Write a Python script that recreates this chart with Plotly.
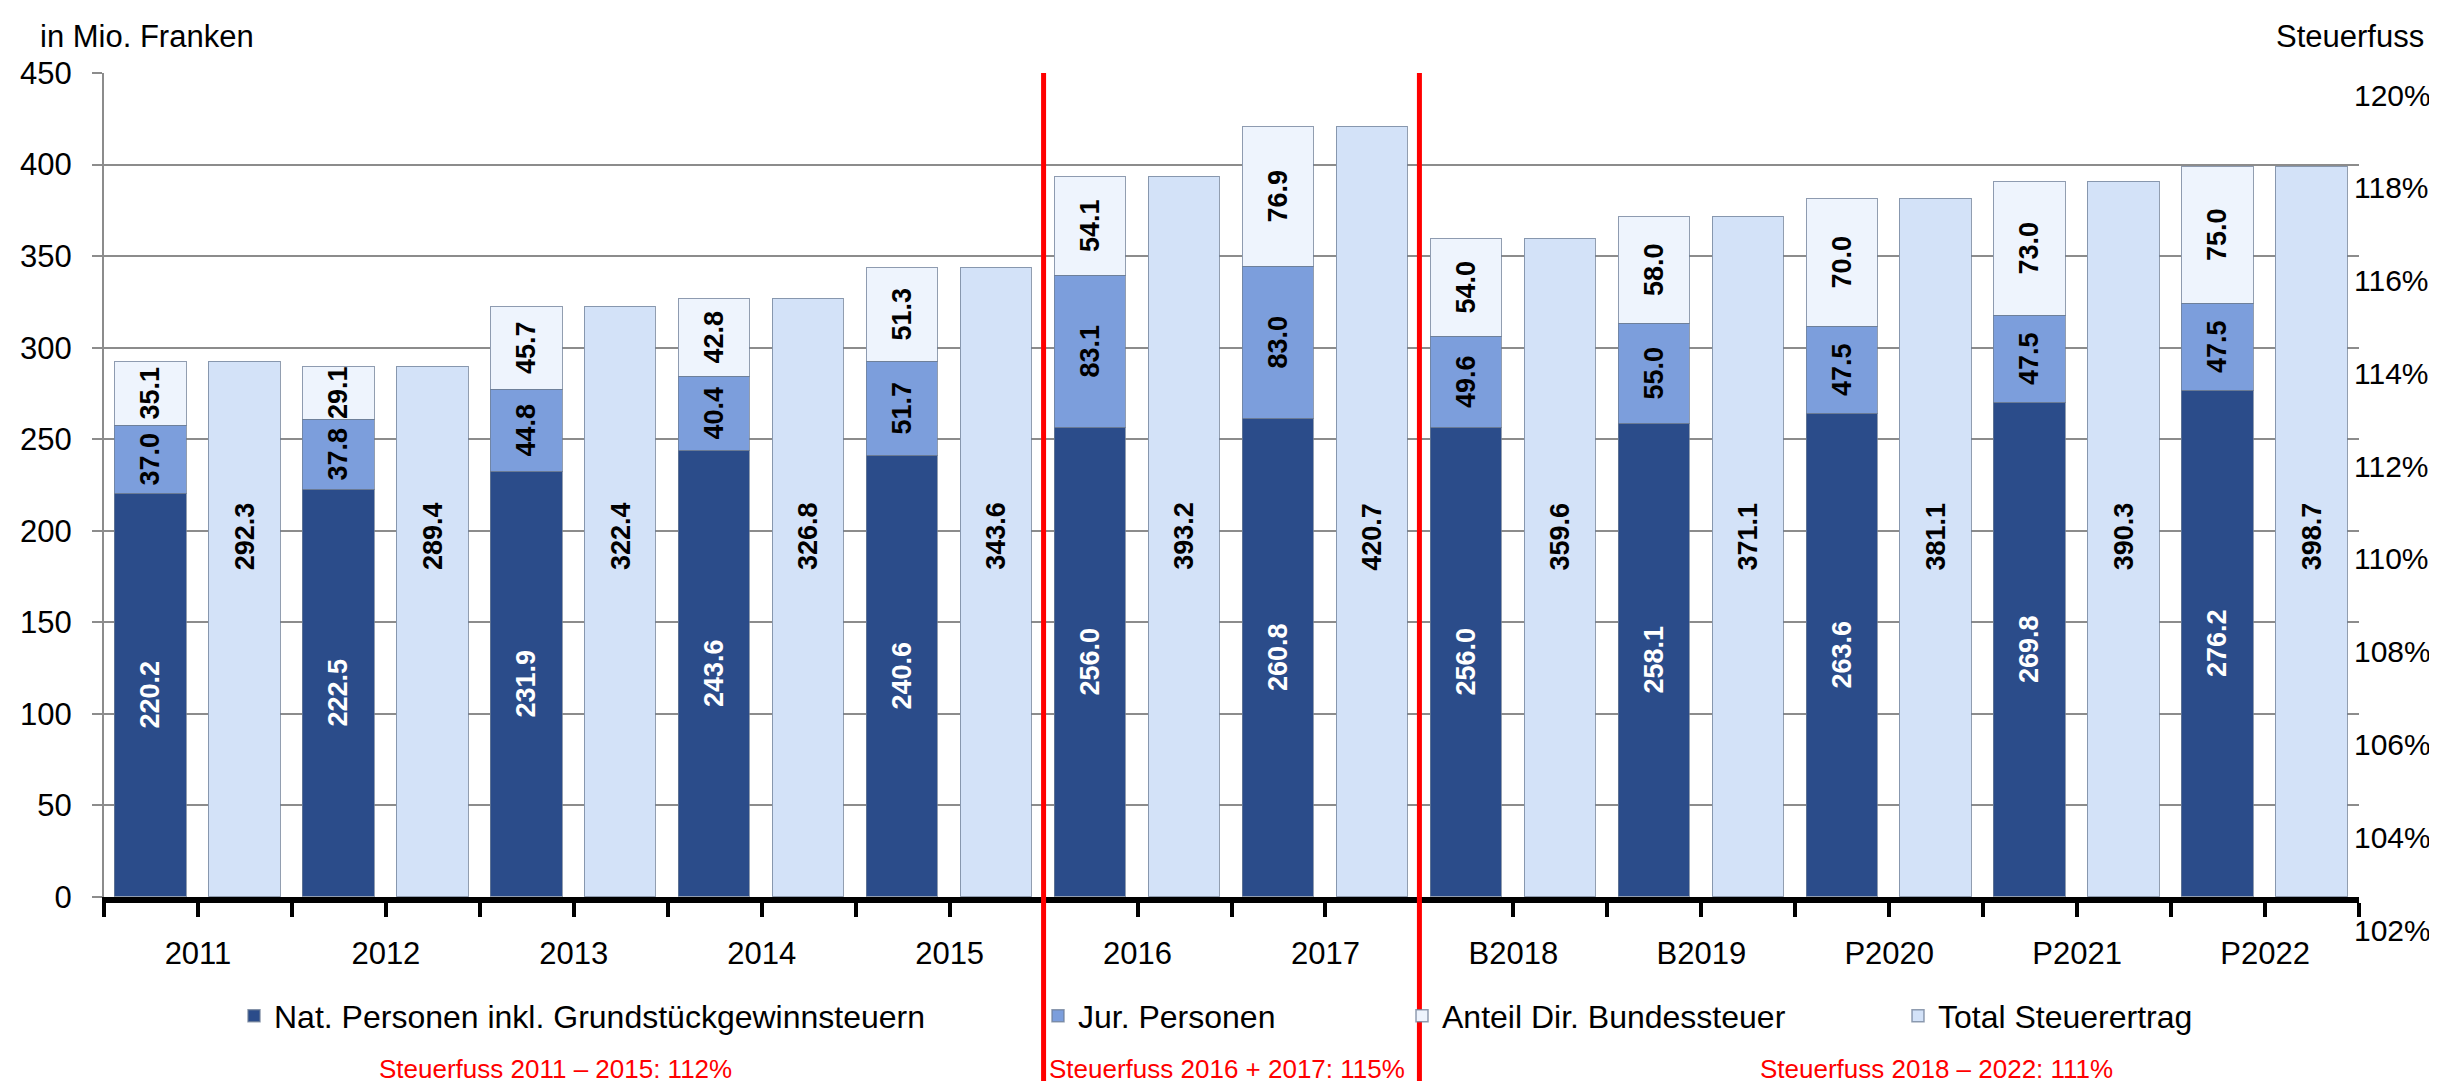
import plotly.graph_objects as go

categories = ["2011", "2012", "2013", "2014", "2015", "2016", "2017",
              "B2018", "B2019", "P2020", "P2021", "P2022"]
nat_personen = [220.2, 222.5, 231.9, 243.6, 240.6, 256.0, 260.8, 256.0, 258.1, 263.6, 269.8, 276.2]
jur_personen = [37.0, 37.8, 44.8, 40.4, 51.7, 83.1, 83.0, 49.6, 55.0, 47.5, 47.5, 47.5]
anteil_dbst = [35.1, 29.1, 45.7, 42.8, 51.3, 54.1, 76.9, 54.0, 58.0, 70.0, 73.0, 75.0]
total = [292.3, 289.4, 322.4, 326.8, 343.6, 393.2, 420.7, 359.6, 371.1, 381.1, 390.3, 398.7]
period_breaks = [10, 14]   # slot boundaries between 2015|2016 and 2017|B2018
period_labels = ["Steuerfuss 2011 – 2015: 112%", "Steuerfuss 2016 + 2017: 115%",
                 "Steuerfuss 2018 – 2022: 111%"]
period_centers = [4.8, 11.95, 19.5]
right_ticks = [102, 104, 106, 108, 110, 112, 114, 116, 118, 120]

FONT = "Liberation Sans, Arial, sans-serif"
W, H = 2437, 1081
ML, MR, MT, MB = 96, 86, 40, 140
PH = H - MT - MB
PW = W - ML - MR


def py(px):  # pixel y -> paper y
    return (H - MB - px) / PH


def pxx(px):  # pixel x -> paper x
    return (px - ML) / PW


n = len(categories)
x_stack = [2 * i + 0.5 for i in range(n)]
x_total = [2 * i + 1.5 for i in range(n)]
BW = 0.76
edge = dict(color="rgba(110,125,150,0.75)", width=1.5)

fig = go.Figure()
fig.add_trace(go.Bar(
    x=x_stack, y=nat_personen, width=BW, name="Nat. Personen inkl. Grundstückgewinnsteuern",
    marker=dict(color="#2B4C8A", line=edge),
    text=[f"{v:.1f}" for v in nat_personen], textposition="inside", insidetextanchor="middle",
    textangle=-90, constraintext="none",
    textfont=dict(family=FONT, size=27, color="white", weight="bold"),
    legend="legend"))
fig.add_trace(go.Bar(
    x=x_stack, y=jur_personen, width=BW, name="Jur. Personen",
    marker=dict(color="#7C9EDC", line=edge),
    text=[f"{v:.1f}" for v in jur_personen], textposition="inside", insidetextanchor="middle",
    textangle=-90, constraintext="none",
    textfont=dict(family=FONT, size=27, color="black", weight="bold"),
    legend="legend2"))
fig.add_trace(go.Bar(
    x=x_stack, y=anteil_dbst, width=BW, name="Anteil Dir. Bundessteuer",
    marker=dict(color="#EEF4FD", line=edge),
    text=[f"{v:.1f}" for v in anteil_dbst], textposition="inside", insidetextanchor="middle",
    textangle=-90, constraintext="none",
    textfont=dict(family=FONT, size=27, color="black", weight="bold"),
    legend="legend3"))
fig.add_trace(go.Bar(
    x=x_total, y=total, width=BW, name="Total Steuerertrag",
    marker=dict(color="#D3E2F8", line=edge),
    legend="legend4"))
# dummy trace to carry the right-hand Steuerfuss axis
fig.add_trace(go.Scatter(x=[None], y=[None], yaxis="y2", showlegend=False, hoverinfo="skip"))

annotations = []
for xv, v in zip(x_total, total):
    annotations.append(dict(x=xv, y=197, xref="x", yref="y", text=f"{v:.1f}", showarrow=False,
                            textangle=-90, font=dict(family=FONT, size=27, color="black", weight="bold")))
for xc, t in zip(period_centers, period_labels):
    annotations.append(dict(x=xc, y=py(1061), xref="x", yref="paper", text=t, showarrow=False,
                            xanchor="center", yanchor="middle",
                            font=dict(family=FONT, size=26, color="#FF0000")))
annotations.append(dict(x=pxx(30), y=py(28), xref="paper", yref="paper", text="in Mio. Franken",
                        showarrow=False, xanchor="left", yanchor="middle",
                        font=dict(family=FONT, size=31, color="black")))
annotations.append(dict(x=pxx(2418), y=py(28), xref="paper", yref="paper", text="Steuerfuss",
                        showarrow=False, xanchor="right", yanchor="middle",
                        font=dict(family=FONT, size=31, color="black")))

shapes = [dict(type="line", xref="x", yref="paper", x0=b, x1=b, y0=py(1081), y1=py(65),
               line=dict(color="#FF0000", width=5), layer="above") for b in period_breaks]

tickvals = list(range(0, 2 * n + 1))
ticktext = [categories[(k - 1) // 2] if k % 2 == 1 else "" for k in tickvals]

leg_common = dict(orientation="h", yanchor="middle", xanchor="left", y=py(1008),
                  font=dict(family=FONT, size=32, color="black"), bgcolor="rgba(0,0,0,0)")

fig.update_layout(
    width=W, height=H,
    margin=dict(l=ML, r=MR, t=MT, b=MB, autoexpand=False),
    paper_bgcolor="white", plot_bgcolor="rgba(0,0,0,0)",
    barmode="stack", bargap=0,
    font=dict(family=FONT, size=31, color="black"),
    xaxis=dict(range=[0, 2 * n], tickmode="array", tickvals=tickvals, ticktext=ticktext,
               showgrid=False, zeroline=False, showline=True, linecolor="black", linewidth=6,
               ticks="outside", ticklen=14, tickwidth=4, tickcolor="black",
               ticklabelstandoff=10, tickfont=dict(family=FONT, size=31, color="black"),
               anchor="y", automargin=False),
    yaxis=dict(range=[0, 450], dtick=50, domain=[py(889), py(65)],
               showgrid=True, gridcolor="#8C8C8C", gridwidth=2, zeroline=False,
               showline=True, linecolor="#8C8C8C", linewidth=2,
               ticks="outside", ticklen=10, tickwidth=2, tickcolor="#8C8C8C",
               ticklabelstandoff=14, tickfont=dict(family=FONT, size=31, color="black"),
               automargin=False),
    yaxis2=dict(range=[102, 120], tickvals=right_ticks, ticktext=[f"{v}%" for v in right_ticks],
                domain=[py(922), py(87)], side="right", anchor="x", showgrid=False,
                zeroline=False, showline=False, ticks="", ticklabelstandoff=-6,
                tickfont=dict(family=FONT, size=30, color="black"), automargin=False),
    legend=dict(x=pxx(226), **leg_common),
    legend2=dict(x=pxx(1030), **leg_common),
    legend3=dict(x=pxx(1394), **leg_common),
    legend4=dict(x=pxx(1890), **leg_common),
    annotations=annotations,
    shapes=shapes,
    showlegend=True,
)

fig.write_html("out.html")
